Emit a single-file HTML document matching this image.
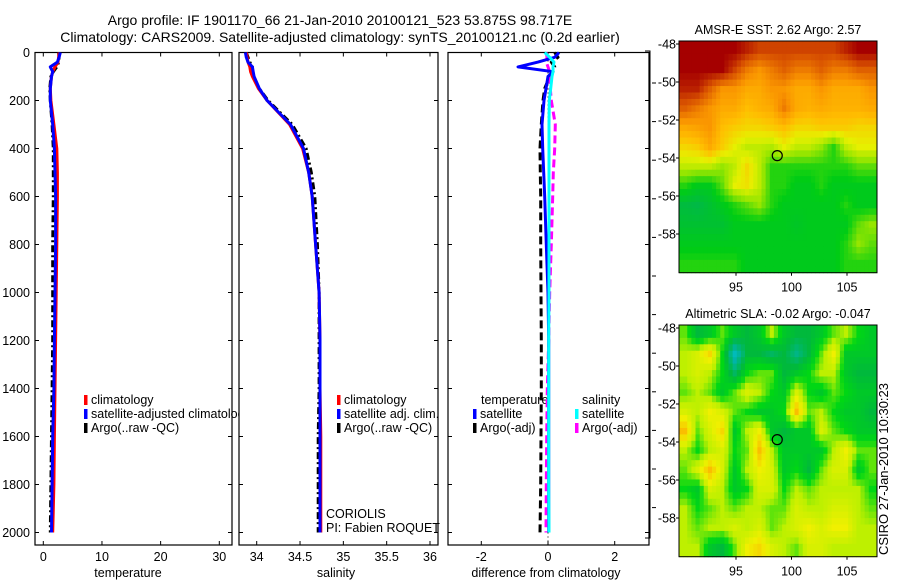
<!DOCTYPE html>
<html><head><meta charset="utf-8">
<style>
html,body{margin:0;padding:0;background:#fff;}
svg{display:block;font-family:"Liberation Sans",Arial,sans-serif;}
text{font-size:12.5px;fill:#000;}
</style></head>
<body>
<svg id="fig" width="900" height="580" viewBox="0 0 900 580" xmlns="http://www.w3.org/2000/svg">
<text x="340" y="25" text-anchor="middle" style="font-size:14px">Argo profile: IF 1901170_66 21-Jan-2010 20100121_523 53.875S 98.717E</text>
<text x="340" y="42" text-anchor="middle" style="font-size:14px">Climatology: CARS2009. Satellite-adjusted climatology: synTS_20100121.nc (0.2d earlier)</text>
<g id="root"></g>
<text x="888" y="555" transform="rotate(-90 888 555)" style="font-size:13px">CSIRO 27-Jan-2010 10:30:23</text>
</svg>
<script>
// ---------- data ----------
const depths = [0,20,40,60,80,100,150,200,300,400,500,600,800,1000,1200,1400,1600,1800,2000];
const tempClim = [2.7,2.6,2.5,2.0,1.6,1.4,1.2,1.3,1.8,2.3,2.4,2.4,2.3,2.2,2.1,2.0,1.9,1.8,1.6];
const tempSat = [2.9,2.7,2.4,1.2,1.6,1.4,1.2,1.2,1.6,1.9,2.0,2.1,2.1,2.0,1.9,1.8,1.6,1.5,1.4];
const tempArgo = [2.6,2.7,2.6,2.3,1.7,1.3,1.1,1.2,1.5,1.7,1.7,1.7,1.6,1.6,1.6,1.5,1.4,1.3,1.2];
const salClim = [33.88,33.89,33.9,33.92,33.93,33.95,34.02,34.12,34.38,34.53,34.6,34.64,34.68,34.72,34.73,34.73,34.74,34.74,34.74];
const salSat = [33.87,33.88,33.9,33.95,33.96,33.97,34.03,34.12,34.39,34.54,34.6,34.64,34.68,34.72,34.73,34.73,34.73,34.73,34.73];
const salArgo = [33.88,33.9,33.92,33.95,33.95,33.96,34.03,34.13,34.41,34.57,34.63,34.67,34.7,34.72,34.72,34.72,34.71,34.71,34.71];
const dTempSat = [0.33,0.2,-0.3,-0.9,0.15,0.0,-0.06,-0.12,-0.18,-0.16,-0.13,-0.1,-0.05,0.0,0.02,0.02,0.02,0.02,0.02];
const dTempArgo = [0.2,0.3,0.1,0.2,0.15,0.05,-0.1,-0.15,-0.2,-0.24,-0.23,-0.22,-0.22,-0.21,-0.2,-0.2,-0.21,-0.22,-0.24];
const dSalSat = [-0.1,0.05,0.18,0.15,0.15,0.12,0.08,0.04,0.03,0.03,0.03,0.03,0.03,0.03,0.02,0.02,0.02,0.02,0.03];
const dSalArgo = [-0.05,-0.03,-0.05,0.0,0.05,0.06,0.07,0.1,0.22,0.2,0.16,0.14,0.1,0.05,0.02,-0.02,-0.04,-0.05,-0.06];
const depthTicks = [0,200,400,600,800,1000,1200,1400,1600,1800,2000];
const tempTicks = [0,10,20,30];
const salTicks = [34,34.5,35,35.5,36];
const salTickLabels = ["34","34.5","35","35.5","36"];
const diffTicks = [-2,0,2];
const lonTicks = [95,100,105];
const latTicks = [-48,-50,-52,-54,-56,-58];
const sstGrid = [
[1,1,1,1,1,.95,.9,.9,.9,.9,.9,.9,.9,.95,1,1],
[1,1,1,1,.9,.8,.75,.8,.85,.8,.8,.85,.8,.8,.85,.85],
[.95,.95,.85,.75,.75,.7,.7,.75,.75,.7,.7,.75,.7,.7,.7,.75],
[.85,.8,.75,.7,.7,.65,.68,.7,.8,.7,.68,.7,.68,.68,.68,.7],
[.7,.72,.75,.65,.62,.6,.6,.62,.65,.6,.6,.62,.62,.62,.6,.6],
[.6,.62,.7,.62,.55,.5,.5,.48,.55,.5,.5,.45,.35,.5,.55,.55],
[.5,.5,.5,.45,.5,.6,.5,.35,.35,.35,.35,.35,.35,.35,.4,.4],
[.35,.3,.3,.4,.55,.58,.5,.35,.35,.3,.3,.35,.3,.3,.3,.3],
[.22,.2,.25,.3,.35,.4,.45,.35,.3,.3,.3,.3,.3,.35,.3,.3],
[.25,.25,.25,.25,.3,.3,.3,.3,.3,.28,.3,.3,.3,.3,.4,.45],
[.3,.3,.3,.3,.3,.3,.3,.3,.3,.3,.3,.3,.3,.35,.45,.4],
[.35,.35,.35,.35,.35,.3,.3,.3,.3,.3,.3,.3,.3,.35,.35,.35]];
const slaGrid = [
[.45,.3,.35,.45,.35,.3,.35,.5,.35,.3,.3,.35,.45,.5,.4,.35],
[.5,.55,.65,.4,.1,.3,.3,.25,.3,.2,.3,.45,.6,.35,.35,.35],
[.5,.55,.5,.4,.25,.4,.45,.45,.3,.35,.4,.5,.5,.35,.3,.3],
[.45,.5,.45,.35,.45,.55,.5,.4,.35,.55,.4,.35,.45,.4,.35,.35],
[.55,.5,.6,.55,.45,.4,.35,.35,.4,.7,.45,.5,.4,.35,.35,.3],
[.7,.45,.55,.65,.35,.5,.6,.35,.3,.35,.35,.55,.45,.4,.35,.35],
[.5,.4,.5,.55,.4,.45,.7,.5,.35,.35,.35,.35,.5,.6,.45,.45],
[.45,.55,.7,.55,.35,.5,.6,.55,.35,.4,.3,.45,.55,.55,.35,.45],
[.4,.35,.55,.5,.35,.4,.55,.55,.4,.5,.45,.5,.5,.5,.5,.4],
[.5,.4,.45,.5,.45,.5,.5,.45,.45,.55,.5,.5,.55,.55,.5,.45],
[.5,.45,.5,.5,.55,.5,.55,.45,.5,.55,.6,.55,.6,.6,.5,.5],
[.5,.5,.35,.3,.45,.6,.65,.55,.5,.45,.55,.55,.5,.5,.5,.5]];
const floatLon = 98.717, floatLat = -53.875;

// ---------- helpers ----------
const NS="http://www.w3.org/2000/svg";
const root=document.getElementById('root');
function mk(tag,attrs,parent){const e=document.createElementNS(NS,tag);for(const k in attrs)e.setAttribute(k,attrs[k]);(parent||root).appendChild(e);return e;}
const Y0=52.5, PXM=0.24, YB=545;
const yD=d=>Y0+d*PXM;
function lin(d0,p0,d1,p1){return v=>p0+(v-d0)*(p1-p0)/(d1-d0);}

function panel(name,x0,x1,xs,ticks,labels,xlabel,xlabelX,showY){
  const g=mk('g',{});
  
  
  const r=mk('rect',{x:x0,y:Y0,width:x1-x0,height:YB-Y0,fill:'#fff',stroke:'#000','stroke-width':1.2},g);
  
  
  ticks.forEach((t,i)=>{
    const x=xs(t);
    mk('line',{x1:x,x2:x,y1:YB,y2:YB-4,stroke:'#000'},g);
    mk('line',{x1:x,x2:x,y1:Y0,y2:Y0+4,stroke:'#000'},g);
    const tx=mk('text',{x:x,y:561,'text-anchor':'middle'},g);tx.textContent=labels[i];
    
    
  });
  depthTicks.forEach(d=>{
    const y=yD(d);
    mk('line',{x1:x0,x2:x0+4,y1:y,y2:y,stroke:'#000'},g);
    mk('line',{x1:x1,x2:x1-4,y1:y,y2:y,stroke:'#000'},g);
    if(showY){const tx=mk('text',{x:x0-5,y:y+4.5,'text-anchor':'end'},g);tx.textContent=d;
      
      }
  });
  const xl=mk('text',{x:xlabelX,y:577,'text-anchor':'middle'},g);xl.textContent=xlabel;
  
  
  return g;
}
function series(g,vals,xs,color,dash,name){
  const pts=vals.map((v,i)=>xs(v).toFixed(1)+','+yD(depths[i]).toFixed(1)).join(' ');
  const a={points:pts,fill:'none',stroke:color,'stroke-width':3,'stroke-linejoin':'round'};
  if(dash)a['stroke-dasharray']=dash;
  const p=mk('polyline',a,g);
  
  
}
function legend(g,x,y,color,label,name){
  mk('rect',{x:x,y:y-9,width:3.5,height:10,fill:color},g);
  const t=mk('text',{x:x+7,y:y},g);t.textContent=label;
  
  
}

// ---------- panel 1: temperature ----------
const xT=lin(0,43.3,30,219.3);
const g1=panel('temperature-panel',35,232,xT,tempTicks,tempTicks.map(String),'temperature',128,true);
series(g1,tempArgo,xT,'#000','7,3,2,3','argo-temperature-line');
series(g1,tempClim,xT,'#ff0000',null,'climatology-temperature-line');
series(g1,tempSat,xT,'#0000ff',null,'satellite-temperature-line');
legend(g1,84,404,'#ff0000','climatology','legend-climatology');
legend(g1,84,418,'#0000ff','satellite-adjusted climatology','legend-satellite-adjusted');
legend(g1,84,432,'#000','Argo(..raw -QC)','legend-argo');

// ---------- panel 2: salinity ----------
const xS=lin(34,256.7,36,430);
const g2=panel('salinity-panel',239,438,xS,salTicks,salTickLabels,'salinity',336,false);
series(g2,salArgo,xS,'#000','7,3,2,3','argo-salinity-line');
series(g2,salClim,xS,'#ff0000',null,'climatology-salinity-line');
series(g2,salSat,xS,'#0000ff',null,'satellite-salinity-line');
legend(g2,337,404,'#ff0000','climatology','legend-sal-climatology');
legend(g2,337,418,'#0000ff','satellite adj. clim.','legend-sal-satellite');
legend(g2,337,432,'#000','Argo(..raw -QC)','legend-sal-argo');
const c1=mk('text',{x:326,y:518},g2);c1.textContent='CORIOLIS';


const c2=mk('text',{x:326,y:532},g2);c2.textContent='PI: Fabien ROQUET';



// ---------- panel 3: difference ----------
const xD=lin(-2,481.3,2,614.7);
const g3=panel('difference-panel',448,649,xD,diffTicks,diffTicks.map(String),'difference from climatology',546,false);
mk('line',{x1:xD(0),x2:xD(0),y1:Y0,y2:YB,stroke:'#000','stroke-width':1,'stroke-dasharray':'1,3'},g3);
const lt=mk('text',{x:481,y:404},g3);lt.textContent='temperature';


const ls=mk('text',{x:582,y:404},g3);ls.textContent='salinity';


legend(g3,473,418,'#0000ff','satellite','legend-diff-temp-satellite');
legend(g3,473,432,'#000','Argo(-adj)','legend-diff-temp-argo');
legend(g3,575,418,'#00ffff','satellite','legend-diff-sal-satellite');
legend(g3,575,432,'#ff00ff','Argo(-adj)','legend-diff-sal-argo');
series(g3,dTempArgo,xD,'#000','8,4','diff-temperature-argo-line');
series(g3,dSalArgo,xD,'#ff00ff','8,4','diff-salinity-argo-line');
series(g3,dTempSat,xD,'#0000ff',null,'diff-temperature-satellite-line');
series(g3,dSalSat,xD,'#00ffff',null,'diff-salinity-satellite-line');

// stray axis bracket
const br=mk('polyline',{points:'645,51 650,51 650,538 645,538',fill:'none',stroke:'#000','stroke-width':1});


for(let k=0;k<12;k++){mk('line',{x1:652,x2:656,y1:83+38.6*k,y2:83+38.6*k,stroke:'#000'});}

// ---------- maps ----------
function cmapSST(v){
  const stops=[[0,[0,150,110]],[0.2,[0,185,70]],[0.32,[0,205,20]],[0.45,[150,230,0]],[0.55,[230,240,0]],[0.65,[255,190,0]],[0.75,[250,150,0]],[0.88,[215,80,0]],[1,[165,0,0]]];
  return interp(stops,v);
}
function cmapSLA(v){
  const stops=[[0,[0,200,220]],[0.15,[0,180,170]],[0.3,[0,185,60]],[0.4,[0,215,20]],[0.5,[190,240,0]],[0.6,[240,240,0]],[0.7,[250,190,0]],[0.8,[250,140,0]]];
  return interp(stops,v);
}
function interp(stops,v){
  for(let i=1;i<stops.length;i++){if(v<=stops[i][0]){const [a,ca]=stops[i-1],[b,cb]=stops[i];const t=(v-a)/(b-a);
    return 'rgb('+ca.map((c,j)=>Math.round(c+(cb[j]-c)*t)).join(',')+')';}}
  const c=stops[stops.length-1][1];return 'rgb('+c.join(',')+')';
}
function sample(grid,fr,fc){
  const R=grid.length,C=grid[0].length;
  const r=Math.min(Math.max(fr-0.5,0),R-1), c=Math.min(Math.max(fc-0.5,0),C-1);
  const r0=Math.floor(r), c0=Math.floor(c), r1=Math.min(r0+1,R-1), c1=Math.min(c0+1,C-1);
  const tr=r-r0, tc=c-c0;
  return grid[r0][c0]*(1-tr)*(1-tc)+grid[r0][c1]*(1-tr)*tc+grid[r1][c0]*tr*(1-tc)+grid[r1][c1]*tr*tc;
}
function mapPanel(name,top,grid,cmap,title){
  const left=679,right=877,bottom=top+231.7;
  const yLat=lin(-48,top+3,-58,top+193);
  const xLon=lin(95,736,100,791.5);
  const g=mk('g',{});
  
  
  const rows=grid.length, cols=grid[0].length, S=3;
  const cw=(right-left)/(cols*S), ch=(bottom-top)/(rows*S);
  for(let r=0;r<rows*S;r++)for(let c=0;c<cols*S;c++){
    const v=sample(grid,(r+0.5)/S,(c+0.5)/S);
    const cell=mk('rect',{x:(left+c*cw).toFixed(2),y:(top+r*ch).toFixed(2),width:(cw+0.5).toFixed(2),height:(ch+0.5).toFixed(2),fill:cmap(v)},g);
    
    
  }
  mk('rect',{x:left,y:top,width:right-left,height:bottom-top,fill:'none',stroke:'#000','stroke-width':1},g);
  latTicks.forEach(l=>{const y=yLat(l);
    mk('line',{x1:left-3,x2:left,y1:y,y2:y,stroke:'#000'},g);
    const t=mk('text',{x:left-3,y:y+4.5,'text-anchor':'end'},g);t.textContent=l;
    
    });
  lonTicks.forEach(l=>{const x=xLon(l);
    mk('line',{x1:x,x2:x,y1:bottom,y2:bottom+3,stroke:'#000'},g);
    const t=mk('text',{x:x,y:bottom+19,'text-anchor':'middle'},g);t.textContent=l;
    
    });
  const tt=mk('text',{x:778,y:top-7,'text-anchor':'middle'},g);tt.textContent=title;
  
  
  const m=mk('circle',{cx:xLon(floatLon),cy:yLat(floatLat),r:5,fill:'none',stroke:'#000','stroke-width':1.2},g);
  
  
}
mapPanel('sst-map',41,sstGrid,cmapSST,'AMSR-E SST: 2.62 Argo: 2.57');
mapPanel('sla-map',325,slaGrid,cmapSLA,'Altimetric SLA: -0.02 Argo: -0.047');
</script>
</body></html>
